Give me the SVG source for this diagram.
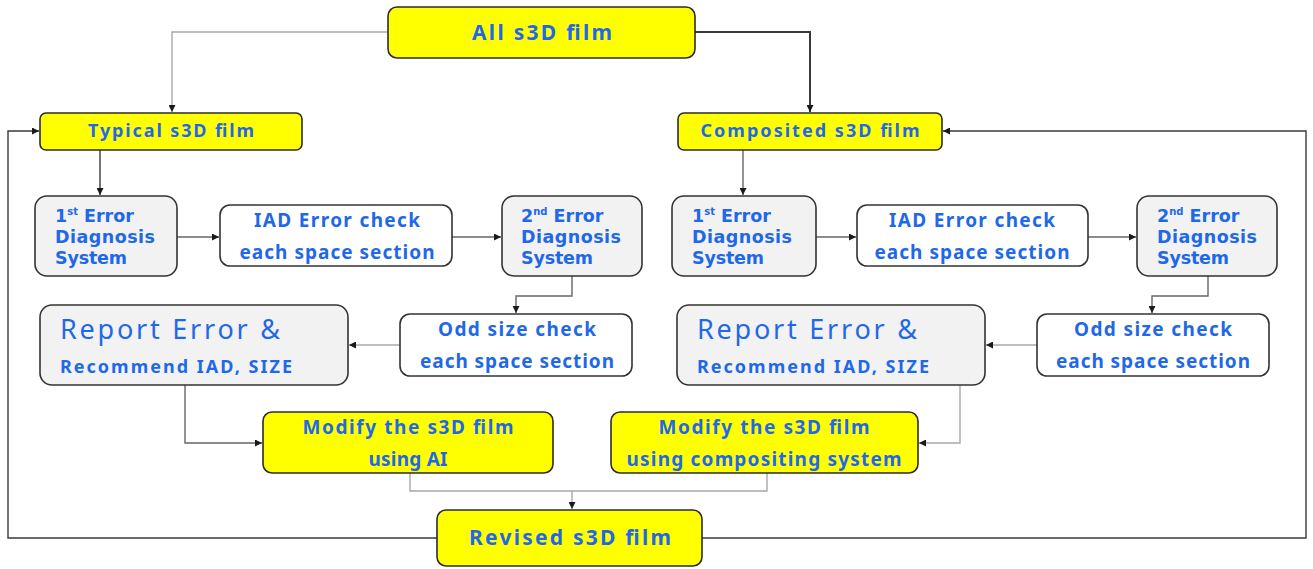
<svg xmlns="http://www.w3.org/2000/svg" width="1313" height="569" viewBox="0 0 1313 569">
  <style>
    .y { fill: #ffff00; stroke: #2b2b2b; stroke-width: 1.6; }
    .g { fill: #f2f2f2; stroke: #333; stroke-width: 1.6; }
    .w { fill: #ffffff; stroke: #333; stroke-width: 1.6; }
    text { font-family: "Noto Sans", "DejaVu Sans", sans-serif; font-weight: bold; fill: #1f68e8; }
    .diag { font-family: "DejaVu Sans", "Liberation Sans", sans-serif; font-size: 17.5px; }
    .c { text-anchor: middle; }
    .big { font-weight: normal; font-size: 27px; }
    .sup { font-size: 10px; }
    .dk { fill: none; stroke: #3a3a3a; stroke-width: 1.4; }
    .lt { fill: none; stroke: #a8a8a8; stroke-width: 1.4; }
    .md { fill: none; stroke: #666; stroke-width: 1.4; }
  </style>
  <defs>
    <marker id="arr" viewBox="0 0 10 10" refX="10" refY="5" markerWidth="7" markerHeight="7" markerUnits="userSpaceOnUse" orient="auto">
      <path d="M0,0 L10,5 L0,10 z" fill="#1a1a1a"/>
    </marker>
  </defs>

  <!-- connectors -->
  <g id="connectors">
    <path class="lt" d="M388,32 H172 V112" marker-end="url(#arr)"/>
    <path class="dk" d="M695,32 H810 V112" marker-end="url(#arr)" style="stroke-width:2"/>
    <path class="dk" d="M437,538 H8 V131 H39" marker-end="url(#arr)"/>
    <path class="dk" d="M702,538 H1306 V131 H943" marker-end="url(#arr)"/>
    <path class="dk" d="M100,150 V195" marker-end="url(#arr)"/>
    <path class="md" d="M743,150 V195" marker-end="url(#arr)"/>
    <path class="md" d="M177,237 H219" marker-end="url(#arr)"/>
    <path class="md" d="M452,237 H501" marker-end="url(#arr)"/>
    <path class="md" d="M816,237 H856" marker-end="url(#arr)"/>
    <path class="md" d="M1088,237 H1136" marker-end="url(#arr)"/>
    <path class="md" d="M572,276 V296 H516 V313" marker-end="url(#arr)"/>
    <path class="md" d="M1208,276 V296 H1152 V313" marker-end="url(#arr)"/>
    <path class="lt" d="M400,345 H349" marker-end="url(#arr)"/>
    <path class="lt" d="M1037,345 H986" marker-end="url(#arr)"/>
    <path class="md" d="M185,385 V443 H262" marker-end="url(#arr)"/>
    <path class="lt" d="M960,385 V443 H919" marker-end="url(#arr)"/>
    <path class="lt" d="M410,473 V491 H767 V473"/>
    <path class="lt" d="M572,491 V509" marker-end="url(#arr)"/>
  </g>

  <g id="all-film">
    <rect class="y" x="388" y="7" width="307" height="51" rx="9"/>
    <text class="c" x="542" y="40" font-size="21" textLength="140">All s3D film</text>
  </g>

  <g id="typical-film">
    <rect class="y" x="40" y="113" width="262" height="37" rx="6"/>
    <text class="c" x="171" y="137" font-size="18" textLength="166">Typical s3D film</text>
  </g>

  <g id="composited-film">
    <rect class="y" x="678" y="113" width="264" height="37" rx="6"/>
    <text class="c" x="810" y="137" font-size="18" textLength="219">Composited s3D film</text>
  </g>

  <!-- left branch -->
  <g id="l-first-diag">
    <rect class="g" x="35" y="196" width="142" height="80" rx="12"/>
    <text class="diag" x="55" y="222">1<tspan class="sup" dy="-7">st</tspan><tspan dy="7"> Error</tspan></text>
    <text class="diag" x="55" y="243" textLength="100">Diagnosis</text>
    <text class="diag" x="55" y="264" textLength="72">System</text>
  </g>
  <g id="l-iad">
    <rect class="w" x="220" y="205" width="232" height="61" rx="10"/>
    <text class="c" x="337" y="227" font-size="19" textLength="166">IAD Error check</text>
    <text class="c" x="337" y="259" font-size="19" textLength="195">each space section</text>
  </g>
  <g id="l-second-diag">
    <rect class="g" x="502" y="196" width="140" height="80" rx="12"/>
    <text class="diag" x="521" y="222">2<tspan class="sup" dy="-7">nd</tspan><tspan dy="7"> Error</tspan></text>
    <text class="diag" x="521" y="243" textLength="100">Diagnosis</text>
    <text class="diag" x="521" y="264" textLength="72">System</text>
  </g>
  <g id="l-report">
    <rect class="g" x="40" y="305" width="308" height="80" rx="12"/>
    <text class="big" x="60" y="339" textLength="220">Report Error &amp;</text>
    <text x="60" y="373" font-size="18" textLength="232">Recommend IAD, SIZE</text>
  </g>
  <g id="l-odd">
    <rect class="w" x="400" y="314" width="232" height="62" rx="10"/>
    <text class="c" x="517" y="336" font-size="19" textLength="158">Odd size check</text>
    <text class="c" x="517" y="368" font-size="19" textLength="194">each space section</text>
  </g>
  <g id="l-modify">
    <rect class="y" x="263" y="412" width="290" height="61" rx="9"/>
    <text class="c" x="408" y="434" font-size="19" textLength="211">Modify the s3D film</text>
    <text class="c" x="408" y="466" font-size="19" textLength="79">using AI</text>
  </g>

  <!-- right branch -->
  <g id="r-first-diag">
    <rect class="g" x="672" y="196" width="144" height="80" rx="12"/>
    <text class="diag" x="692" y="222">1<tspan class="sup" dy="-7">st</tspan><tspan dy="7"> Error</tspan></text>
    <text class="diag" x="692" y="243" textLength="100">Diagnosis</text>
    <text class="diag" x="692" y="264" textLength="72">System</text>
  </g>
  <g id="r-iad">
    <rect class="w" x="857" y="205" width="231" height="61" rx="10"/>
    <text class="c" x="972" y="227" font-size="19" textLength="166">IAD Error check</text>
    <text class="c" x="972" y="259" font-size="19" textLength="195">each space section</text>
  </g>
  <g id="r-second-diag">
    <rect class="g" x="1137" y="196" width="140" height="80" rx="12"/>
    <text class="diag" x="1157" y="222">2<tspan class="sup" dy="-7">nd</tspan><tspan dy="7"> Error</tspan></text>
    <text class="diag" x="1157" y="243" textLength="100">Diagnosis</text>
    <text class="diag" x="1157" y="264" textLength="72">System</text>
  </g>
  <g id="r-report">
    <rect class="g" x="677" y="305" width="308" height="80" rx="12"/>
    <text class="big" x="697" y="339" textLength="220">Report Error &amp;</text>
    <text x="697" y="373" font-size="18" textLength="232">Recommend IAD, SIZE</text>
  </g>
  <g id="r-odd">
    <rect class="w" x="1037" y="314" width="232" height="62" rx="10"/>
    <text class="c" x="1153" y="336" font-size="19" textLength="158">Odd size check</text>
    <text class="c" x="1153" y="368" font-size="19" textLength="194">each space section</text>
  </g>
  <g id="r-modify">
    <rect class="y" x="611" y="412" width="307" height="61" rx="9"/>
    <text class="c" x="764" y="434" font-size="19" textLength="211">Modify the s3D film</text>
    <text class="c" x="764" y="466" font-size="19" textLength="275">using compositing system</text>
  </g>

  <g id="revised-film">
    <rect class="y" x="437" y="510" width="265" height="56" rx="9"/>
    <text class="c" x="570" y="545" font-size="21" textLength="202">Revised s3D film</text>
  </g>
</svg>
